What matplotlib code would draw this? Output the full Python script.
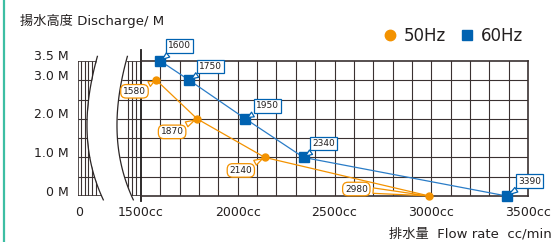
import numpy as np
import matplotlib
matplotlib.use("Agg")
import matplotlib.pyplot as plt
from matplotlib.lines import Line2D
from matplotlib.transforms import ScaledTranslation

plt.rcParams['font.family'] = ['DejaVu Sans', 'Noto Sans CJK JP']

# data (x = where the point sits, text = the printed label)
flow_50 = [1580, 1790, 2140, 2990]
head_50 = [3.0, 2.0, 1.0, 0.0]
text_50 = ['1580', '1870', '2140', '2980']

flow_60 = [1600, 1750, 2040, 2340, 3390]
head_60 = [3.5, 3.0, 2.0, 1.0, 0.0]
text_60 = ['1600', '1750', '1950', '2340', '3390']

x_ticks = [1500, 2000, 2500, 3000, 3500]
x_labels = ['1500cc', '2000cc', '2500cc', '3000cc', '3500cc']
y_ticks = [0, 1, 2, 3, 3.5]
y_labels = ['0 M', '1.0 M', '2.0 M', '3.0 M', '3.5 M']

ORANGE = '#f39200'
BLUE = '#0062b1'
BLUE_LINE = '#2a7cc7'
GRID = '#3a3131'
TXT = '#231f1f'

W, H = 557, 242
def fx(px):
    return px / W
def fy(py):
    return 1 - py / H

fig = plt.figure(figsize=(W / 100, H / 100), dpi=100)

# broken part of the axis (0 ... 1500), drawn first so the main axes sit on top
axb = fig.add_axes([fx(78), fy(196), fx(141) - fx(78), fy(61) - fy(196)])
axb.set_xlim(0, 63)
axb.set_ylim(0, 3.5)
axb.patch.set_visible(False)
for s in axb.spines.values():
    s.set_visible(False)
for h in np.arange(0, 3.51, 0.5):
    lw = 1.2 if h in (0, 3.5) else 0.8
    axb.plot([0, 63], [h, h], color=GRID, lw=lw, zorder=1, solid_capstyle='butt')
for v in [0, 3, 6.5, 10, 14, 18, 50, 54, 58]:
    lw = 1.2 if v == 0 else 0.8
    axb.plot([v, v], [0, 3.5], color=GRID, lw=lw, zorder=1, solid_capstyle='butt')

cy = np.array([3.62, 2.9, 2.2, 1.8, 1.2, 0.6, -0.1])
cx = np.array([19, 14, 9.5, 7.5, 11, 16, 25])
coef = np.polyfit(cy, cx, 3)
yy = np.linspace(-0.1, 3.62, 120)
left = np.polyval(coef, yy)
right = left + 30
axb.fill_betweenx(yy, left, right, color='white', zorder=2.5, clip_on=False, lw=0)
axb.plot(left, yy, color='#2b2525', lw=0.9, zorder=3, clip_on=False)
axb.plot(right, yy, color='#2b2525', lw=0.9, zorder=3, clip_on=False)

axb.set_xticks([1], ['0'])
axb.set_yticks([])
axb.tick_params(axis='x', length=0, pad=7, labelsize=9, labelcolor=TXT)
lab_tr = axb.transData + ScaledTranslation(-9 / 100, 4 / 100, fig.dpi_scale_trans)
for v, s in zip(y_ticks, y_labels):
    axb.text(0, v, s, transform=lab_tr, ha='right', va='center', fontsize=9, color=TXT)

# main axes
ax = fig.add_axes([fx(141), fy(196), fx(528) - fx(141), fy(61) - fy(196)])
ax.set_xlim(1500, 3500)
ax.set_ylim(0, 3.5)
for v in np.arange(1600, 3500, 100):
    ax.axvline(v, color=GRID, lw=0.8, zorder=1)
for h in np.arange(0.5, 3.5, 0.5):
    ax.axhline(h, color=GRID, lw=0.8, zorder=1)
ax.spines['left'].set_visible(False)
for k in ('top', 'right', 'bottom'):
    ax.spines[k].set_color(GRID)
    ax.spines[k].set_linewidth(1.2)
ax.axvline(1500, ymin=-0.04, ymax=1.08, clip_on=False, color='#1e1a1a', lw=1.3, zorder=2)

ax.set_xticks(x_ticks, x_labels)
ax.set_yticks([])
ax.tick_params(axis='x', length=0, pad=7, labelsize=9, labelcolor=TXT)

ax.plot(flow_50, head_50, color=ORANGE, lw=0.9, zorder=3, clip_on=False)
ax.plot(flow_50, head_50, 'o', color=ORANGE, ms=5, zorder=4, clip_on=False)
ax.plot(flow_60, head_60, color=BLUE_LINE, lw=0.9, zorder=3, clip_on=False)
ax.plot(flow_60, head_60, 's', color=BLUE, ms=7, zorder=4, clip_on=False)

# callout offsets in pixels (box centre minus point, y up)
off_50 = [(-22, -11), (-25, -13), (-24, -13), (-73, 7)]
off_60 = [(19, 15), (21, 14), (22, 13), (20, 14), (23, 15)]

for x, y, t, (dx, dy) in zip(flow_50, head_50, text_50, off_50):
    ax.annotate(t, (x, y), xytext=(dx * 0.72, dy * 0.72), textcoords='offset points',
                ha='center', va='center', fontsize=6.5, color=TXT, zorder=6,
                annotation_clip=False,
                bbox=dict(boxstyle='round,pad=0.25,rounding_size=0.6', fc='white', ec=ORANGE, lw=0.9),
                arrowprops=dict(arrowstyle='wedge,tail_width=0.6', fc='white', ec=ORANGE,
                                lw=0.9, shrinkB=2))
for x, y, t, (dx, dy) in zip(flow_60, head_60, text_60, off_60):
    ax.annotate(t, (x, y), xytext=(dx * 0.72, dy * 0.72), textcoords='offset points',
                ha='center', va='center', fontsize=6.5, color=TXT, zorder=6,
                annotation_clip=False,
                bbox=dict(boxstyle='square,pad=0.25', fc='white', ec=BLUE, lw=0.9),
                arrowprops=dict(arrowstyle='wedge,tail_width=0.6', fc='white', ec=BLUE,
                                lw=0.9, shrinkB=2))

# titles
fig.text(fx(20), fy(21), '揚水高度 Discharge/ M', ha='left', va='center', fontsize=9.5, color=TXT)
fig.text(fx(552), fy(234), '排水量  Flow rate  cc/min', ha='right', va='center', fontsize=9.5, color=TXT)

handles = [Line2D([], [], marker='o', ls='none', color=ORANGE, ms=7.5, label='50Hz'),
           Line2D([], [], marker='s', ls='none', color=BLUE, ms=7, label='60Hz')]
fig.legend(handles=handles, loc='center right', bbox_to_anchor=(fx(523), fy(36)), ncol=2,
           frameon=False, fontsize=12, handlelength=0.8, handletextpad=0.4, columnspacing=0.9,
           borderpad=0, borderaxespad=0, labelcolor=TXT)

# teal rule at the far left
fig.add_artist(Line2D([fx(4), fx(4)], [0, 1], transform=fig.transFigure, color='#3dbea3', lw=1.6))

fig.savefig('out.png', dpi=100)
